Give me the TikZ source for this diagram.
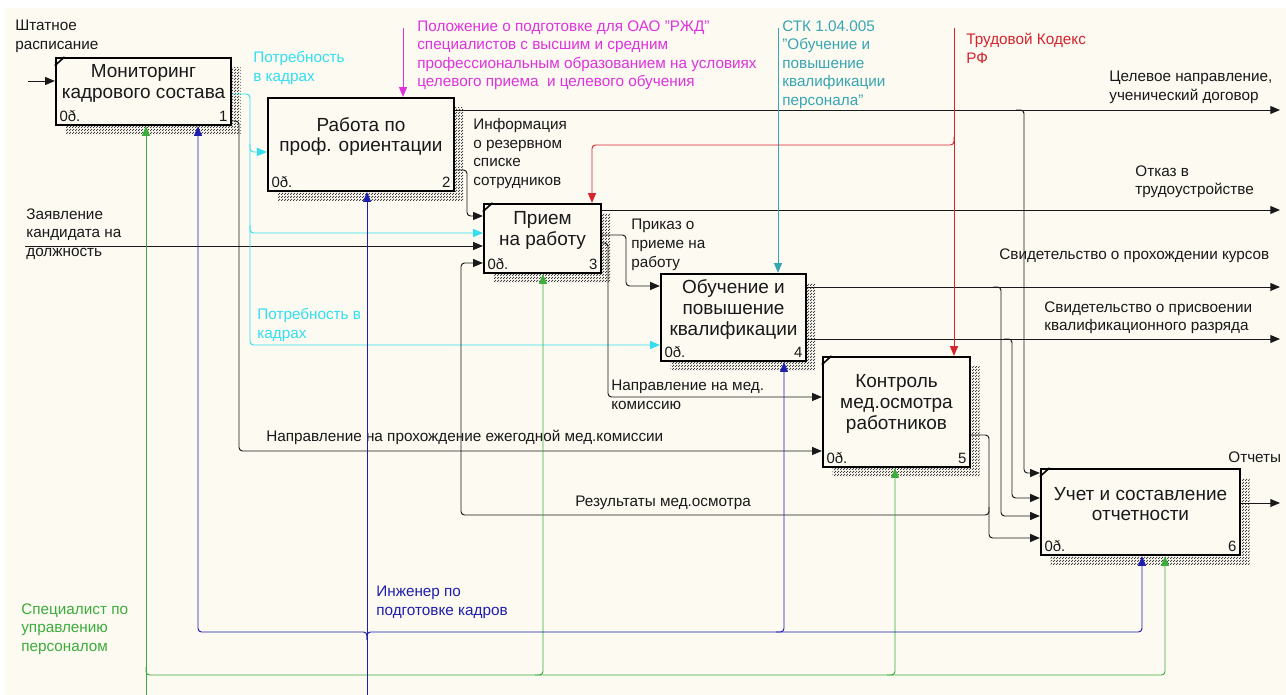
\documentclass[tikz,border=0pt]{standalone}
\usepackage{fontspec}
\setmainfont{Liberation Sans}
\usetikzlibrary{arrows.meta,patterns,shadows}

\definecolor{bgcream}{RGB}{252,250,241}
\definecolor{ink}{RGB}{25,25,25}
\definecolor{cyanarr}{RGB}{50,222,240}
\definecolor{magarr}{RGB}{222,50,222}
\definecolor{tealarr}{RGB}{55,165,178}
\definecolor{redarr}{RGB}{215,35,45}
\definecolor{greenarr}{RGB}{60,172,60}
\definecolor{bluearr}{RGB}{30,30,175}

\pgfdeclarepatternformonly{idefhatch}{\pgfpointorigin}{\pgfpoint{1.4pt}{1.4pt}}{\pgfpoint{1.4pt}{1.4pt}}{
	\pgfpathrectangle{\pgfpointorigin}{\pgfpoint{0.7pt}{0.7pt}}
	\pgfpathrectangle{\pgfpoint{0.7pt}{0.7pt}}{\pgfpoint{0.7pt}{0.7pt}}
	\pgfusepath{fill}}

\begin{document}
\begin{tikzpicture}[x=0.02cm,y=-0.02cm,
	box/.style={draw=black,line width=1.3pt,fill=bgcream,inner sep=0pt,
		general shadow={shadow xshift=5.5pt,shadow yshift=-5.5pt,pattern=idefhatch,pattern color=black!75}},
	boxname/.style={align=center,inner sep=0pt,yshift=4.5pt,text=ink,font=\fontsize{10.8}{11.8}\selectfont},
	boxcost/.style={anchor=south west,inner sep=2.5pt,text=ink,font=\fontsize{8.5}{10}\selectfont},
	boxnum/.style={anchor=south east,inner sep=2.5pt,text=ink,font=\fontsize{8.5}{10}\selectfont},
	arr/.style={draw=ink,line width=0.55pt,rounded corners=2pt,-{Triangle[length=5.5pt,width=4.5pt]}},
	lbl/.style={anchor=north west,align=left,inner sep=0pt,text=ink,font=\fontsize{8.7}{10.6}\selectfont}]
	\useasboundingbox (0,0) rectangle (1286,695);
	%background
		\fill[white] (0,0) rectangle (1286,695);
		\fill[bgcream] (5,8) rectangle (1286,695);
	%boxes
		\node[box,minimum width=3.5cm,minimum height=1.34cm,
			label={[boxname]center:Мониторинг\\кадрового состава},
			label={[boxcost]south west:0ð.},label={[boxnum]south east:1}] (b1) at (143.5,91.5) {};
		\node[box,minimum width=3.72cm,minimum height=1.86cm,
			label={[boxname]center:Работа по\\проф. ориентации},
			label={[boxcost]south west:0ð.},label={[boxnum]south east:2}] (b2) at (361,144.5) {};
		\node[box,minimum width=2.34cm,minimum height=1.38cm,
			label={[boxname]center:Прием\\на работу},
			label={[boxcost]south west:0ð.},label={[boxnum]south east:3}] (b3) at (542.5,238.5) {};
		\node[box,minimum width=2.9cm,minimum height=1.74cm,
			label={[boxname]center:Обучение и\\повышение\\квалификации},
			label={[boxcost]south west:0ð.},label={[boxnum]south east:4}] (b4) at (733.5,317.5) {};
		\node[box,minimum width=2.94cm,minimum height=2.2cm,
			label={[boxname]center:Контроль\\мед.осмотра\\работников},
			label={[boxcost]south west:0ð.},label={[boxnum]south east:5}] (b5) at (896.5,412) {};
		\node[box,minimum width=3.98cm,minimum height=1.72cm,
			label={[boxname]center:Учет и составление\\отчетности},
			label={[boxcost]south west:0ð.},label={[boxnum]south east:6}] (b6) at (1140.5,512) {};
	%corner marks
		\foreach \b in {b1,b3,b5,b6}
			\draw[line width=0.9pt] ([yshift=-5pt]\b.north west) -- ([xshift=5.5pt]\b.north west);
	%free ends
		\coordinate (shtat) at (28,81);
		\coordinate (zayav) at (25,246);
		\coordinate (polozh) at (403,28);
		\coordinate (stk) at (778,28);
		\coordinate (tk) at (954,28);
		\coordinate (spec) at (146,695);
		\coordinate (inzh) at (367,695);
		\coordinate (celev) at (1280,110);
		\coordinate (otkaz) at (1280,210);
		\coordinate (kursy) at (1280,287);
		\coordinate (razryad) at (1280,339);
		\coordinate (otchety) at (1280,503);
	%inputs
		\draw[arr] (shtat) -- (b1.west |- shtat);
		\draw[arr] (zayav) -- (b3.west |- zayav);
		\node[lbl] (lshtat) at (15,20) {Штатное\\расписание};
		\node[lbl] (lzayav) at (26,208) {Заявление\\кандидата на\\должность};
	%need for staff
		\draw[arr,draw=cyanarr,-{Triangle[length=5.5pt,width=4.5pt,color=cyanarr]}]
			(b1.east |- 0,94) -- (250,94) -- (250,345) -- (b4.west |- 0,345);
		\draw[arr,draw=cyanarr,-{Triangle[length=5.5pt,width=4.5pt,color=cyanarr]}]
			(250,144) -- (250,152) -- (b2.west |- 0,152);
		\draw[arr,draw=cyanarr,-{Triangle[length=5.5pt,width=4.5pt,color=cyanarr]}]
			(250,225) -- (250,233) -- (b3.west |- 0,233);
		\node[lbl,text=cyanarr] (lneed1) at (253,51) {Потребность\\в кадрах};
		\node[lbl,text=cyanarr] (lneed2) at (257,308) {Потребность в\\кадрах};
	%annual medical
		\draw[arr] (b1.east |- 0,121) -- (239,121) -- (239,451) -- (b5.west |- 0,451);
		\node[lbl] (lannual) at (266,430) {Направление на прохождение ежегодной мед.комиссии};
	%outputs of 2
		\draw[arr] (b2.east |- celev) -- (celev);
		\draw[arr] (1016,110) -- (1024,110) -- (1024,473) -- (b6.west |- 0,473);
		\draw[arr] (b2.east |- 0,170) -- (467,170) -- (467,216) -- (b3.west |- 0,216);
		\node[lbl] (lcelev) at (1109,71) {Целевое направление,\\ученический договор};
		\node[lbl] (lreserve) at (473,118) {Информация\\о резервном\\списке\\сотрудников};
	%outputs of 3
		\draw[arr] (b3.east |- otkaz) -- (otkaz);
		\draw[arr] (b3.east |- 0,235) -- (626,235) -- (626,286) -- (b4.west |- 0,286);
		\draw[arr] (b3.east |- 0,243) -- (608,243) -- (608,397) -- (b5.west |- 0,397);
		\node[lbl] (lotkaz) at (1135,165) {Отказ в\\трудоустройстве};
		\node[lbl] (lprikaz) at (631,219) {Приказ о\\приеме на\\работу};
		\node[lbl] (lmed) at (611,380) {Направление на мед.\\комиссию};
	%outputs of 4
		\draw[arr] (b4.east |- kursy) -- (kursy);
		\draw[arr] (993,287) -- (1001,287) -- (1001,516) -- (b6.west |- 0,516);
		\draw[arr] (b4.east |- razryad) -- (razryad);
		\draw[arr] (1004,339) -- (1012,339) -- (1012,498) -- (b6.west |- 0,498);
		\node[lbl] (lkursy) at (999,248) {Свидетельство о прохождении курсов};
		\node[lbl] (lrazryad) at (1044,301) {Свидетельство о присвоении\\квалификационного разряда};
	%outputs of 5
		\draw[arr] (b5.east |- 0,435) -- (989,435) -- (989,538) -- (b6.west |- 0,538);
		\draw[arr] (989,507) -- (989,515) -- (461,515) -- (461,263) -- (b3.west |- 0,263);
		\node[lbl] (lresult) at (575,496) {Результаты мед.осмотра};
	%output of 6
		\draw[arr] (b6.east |- otchety) -- (otchety);
		\node[lbl] (lotchety) at (1228,451) {Отчеты};
	%controls
		\draw[arr,draw=magarr,-{Triangle[length=5.5pt,width=4.5pt,color=magarr]}] (polozh) -- (polozh |- b2.north);
		\node[lbl,text=magarr] (lpolozh) at (417,20) {Положение о подготовке для ОАО "РЖД"\\специалистов с высшим и средним\\профессиональным образованием на условиях\\целевого приема\ \ и целевого обучения};
		\draw[arr,draw=tealarr,-{Triangle[length=5.5pt,width=4.5pt,color=tealarr]}] (stk) -- (stk |- b4.north);
		\node[lbl,text=tealarr] (lstk) at (782,20) {СТК 1.04.005\\"Обучение и\\повышение\\квалификации\\персонала"};
		\draw[arr,draw=redarr,-{Triangle[length=5.5pt,width=4.5pt,color=redarr]}] (tk) -- (tk |- b5.north);
		\draw[arr,draw=redarr,-{Triangle[length=5.5pt,width=4.5pt,color=redarr]}] (954,137) -- (954,145) -- (592,145) -- (592,0 |- b3.north);
		\node[lbl,text=redarr] (ltk) at (966,33) {Трудовой Кодекс\\РФ};
	%mechanisms
		\draw[arr,draw=greenarr,-{Triangle[length=5.5pt,width=4.5pt,color=greenarr]}] (spec) -- (spec |- b1.south);
		\draw[arr,draw=greenarr,-{Triangle[length=5.5pt,width=4.5pt,color=greenarr]}] (146,667) -- (146,675) -- (1165,675) -- (1165,0 |- b6.south);
		\draw[arr,draw=greenarr,-{Triangle[length=5.5pt,width=4.5pt,color=greenarr]}] (535,675) -- (543,675) -- (543,0 |- b3.south);
		\draw[arr,draw=greenarr,-{Triangle[length=5.5pt,width=4.5pt,color=greenarr]}] (887,675) -- (895,675) -- (895,0 |- b5.south);
		\node[lbl,text=greenarr] (lspec) at (21,603) {Специалист по\\управлению\\персоналом};
		\draw[arr,draw=bluearr,-{Triangle[length=5.5pt,width=4.5pt,color=bluearr]}] (inzh) -- (inzh |- b2.south);
		\draw[arr,draw=bluearr,-{Triangle[length=5.5pt,width=4.5pt,color=bluearr]}] (367,640) -- (367,632) -- (198,632) -- (198,0 |- b1.south);
		\draw[arr,draw=bluearr,-{Triangle[length=5.5pt,width=4.5pt,color=bluearr]}] (367,640) -- (367,632) -- (1142,632) -- (1142,0 |- b6.south);
		\draw[arr,draw=bluearr,-{Triangle[length=5.5pt,width=4.5pt,color=bluearr]}] (776,632) -- (784,632) -- (784,0 |- b4.south);
		\node[lbl,text=bluearr] (linzh) at (376,586) {Инженер по\\подготовке кадров};
\end{tikzpicture}
\end{document}
